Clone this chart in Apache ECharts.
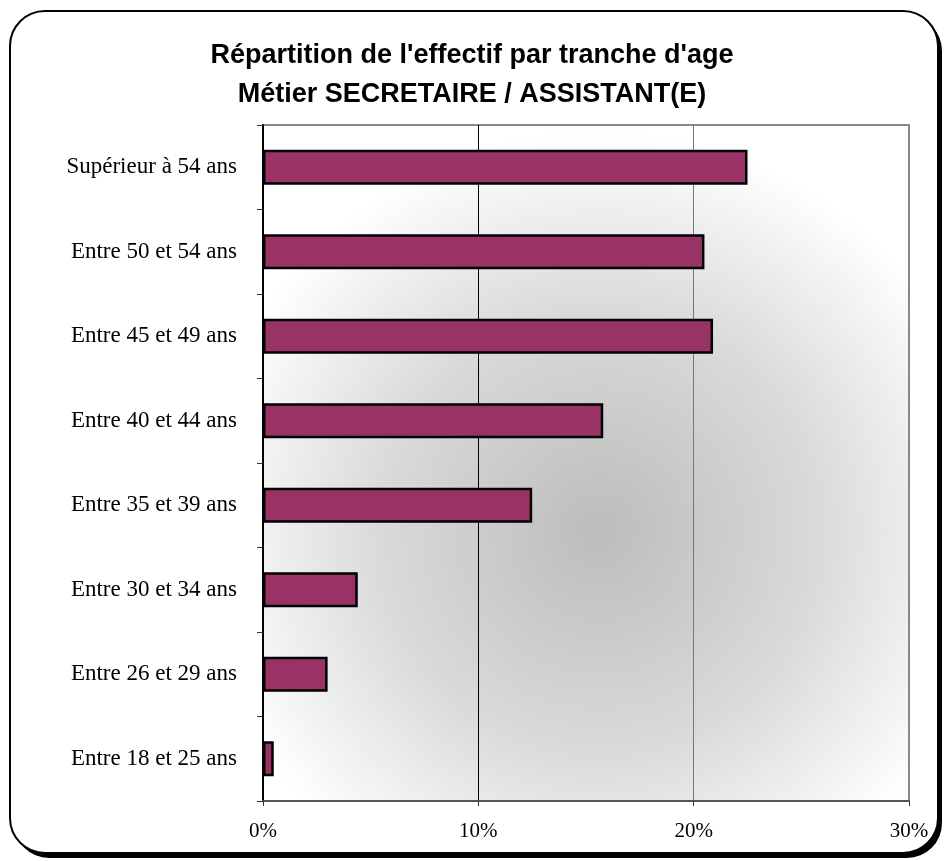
<!DOCTYPE html>
<html>
<head>
<meta charset="utf-8">
<script src="https://cdn.jsdelivr.net/npm/echarts@6/dist/echarts.min.js"></script>
<style>
  html, body { margin: 0; padding: 0; background: #fff; }
  #chart { width: 944px; height: 861px; }
</style>
</head>
<body>
<div id="chart"></div>
<script>
// age bands, top to bottom as shown
const ageBands = ['Supérieur à 54 ans', 'Entre 50 et 54 ans', 'Entre 45 et 49 ans', 'Entre 40 et 44 ans',
    'Entre 35 et 39 ans', 'Entre 30 et 34 ans', 'Entre 26 et 29 ans', 'Entre 18 et 25 ans'];
const shares = [0.225, 0.205, 0.209, 0.158, 0.125, 0.044, 0.030, 0.005];
const xTicks = [0, 0.1, 0.2, 0.3];

const titleText = "Répartition de l'effectif par tranche d'age\nMétier SECRETAIRE / ASSISTANT(E)";

let myChart = echarts.init(document.getElementById('chart'));

let option = {
    animation: false,
    backgroundColor: '#fff',
    graphic: [{
        // drop shadow of the frame
        type: 'rect',
        z: -11,
        shape: { x: 14, y: 16, width: 928, height: 842, r: 35 },
        style: { fill: '#000' }
    }, {
        type: 'rect',
        z: -10,
        shape: { x: 10, y: 11, width: 928, height: 842, r: 35 },
        style: { fill: '#fff', stroke: '#000', lineWidth: 2 }
    }],
    title: {
        text: titleText,
        left: 'center',
        top: 31,
        textStyle: {
            fontFamily: 'Liberation Sans',
            fontWeight: 'bold',
            fontSize: 27,
            lineHeight: 39,
            color: '#000'
        }
    },
    grid: {
        left: 263, top: 125, right: 35, bottom: 60,
        show: true,
        borderColor: '#888',
        borderWidth: 2,
        backgroundColor: {
            type: 'radial', x: 0.52, y: 0.6, r: 0.62,
            colorStops: [
                { offset: 0, color: '#bcbcbc' },
                { offset: 0.55, color: '#dadada' },
                { offset: 1, color: '#ffffff' }
            ]
        }
    },
    xAxis: {
        type: 'value',
        min: xTicks[0],
        max: xTicks[xTicks.length - 1],
        interval: 0.1,
        axisLine: { show: true, lineStyle: { color: '#555', width: 2 } },
        axisTick: { show: true, length: 5, lineStyle: { color: '#333' } },
        splitLine: { show: true, lineStyle: { color: ['#000', '#000', '#777', '#888'], width: 1 } },
        axisLabel: {
            formatter: v => Math.round(v * 100) + '%',
            fontFamily: 'Liberation Serif',
            fontSize: 21,
            color: '#000',
            margin: 20
        }
    },
    yAxis: {
        type: 'category',
        data: ageBands,
        inverse: true,
        axisLine: { show: true, lineStyle: { color: '#000', width: 2 } },
        axisTick: { show: true, length: 6, lineStyle: { color: '#333' } },
        axisLabel: {
            fontFamily: 'Liberation Serif',
            fontSize: 23,
            color: '#000',
            margin: 26
        }
    },
    series: [{
        name: 'effectif',
        type: 'bar',
        data: shares,
        barWidth: 35,
        itemStyle: { color: '#993366', borderColor: '#000', borderWidth: 2.5 }
    }]
};

myChart.setOption(option);
</script>
</body>
</html>
